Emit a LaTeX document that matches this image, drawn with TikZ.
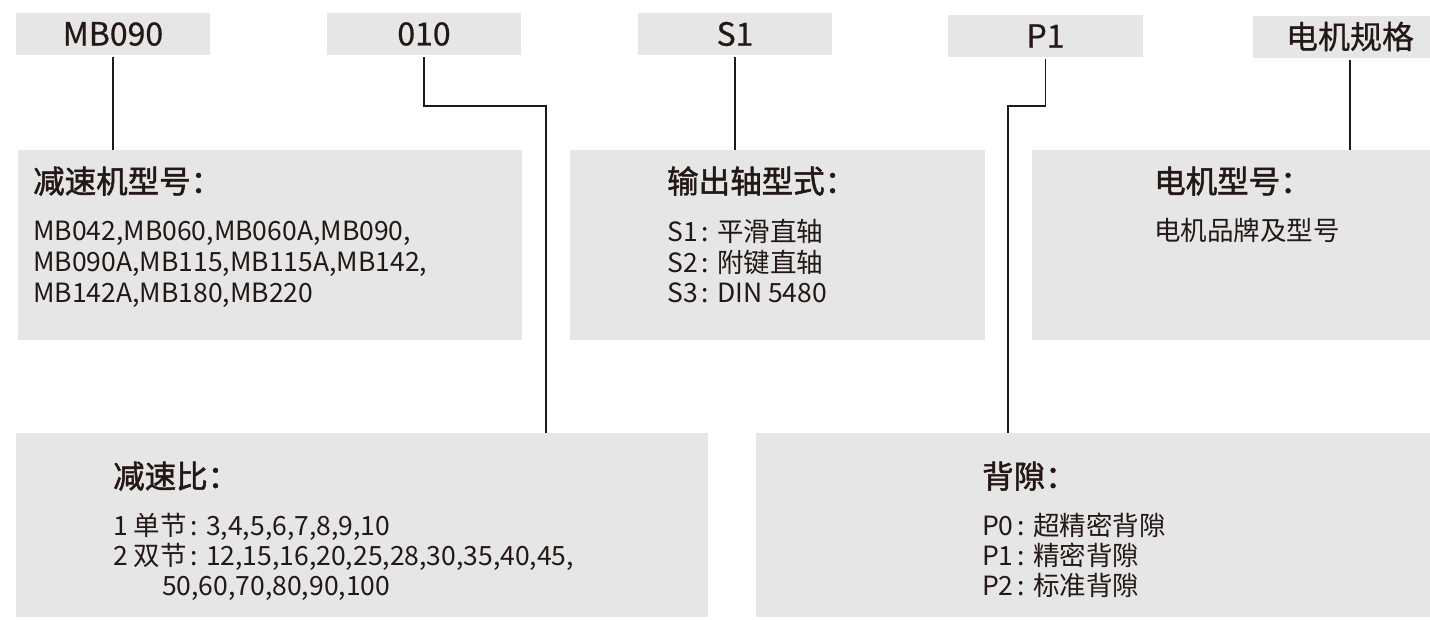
\documentclass[tikz,border=0pt]{standalone}
\usepackage{fontspec}
\setmainfont{Noto Sans CJK SC}
\newfontfamily\ttlfont{Noto Sans CJK SC}[FakeBold=1.6]
\newfontfamily\tagfont{Noto Sans CJK SC}[FakeBold=0.6]
\newcommand\cln{\hspace{4pt}:\hspace{8pt}}
\definecolor{ink}{HTML}{231815}
\definecolor{boxgray}{HTML}{E6E6E6}
\begin{document}
\begin{tikzpicture}[x=1pt,y=-1pt,
  tag/.style={fill=boxgray, inner sep=0pt, minimum height=42, text=ink, font=\tagfont\fontsize{32}{38}\selectfont},
  panel/.style={fill=boxgray, inner sep=0pt},
  ttl/.style={anchor=base west, inner sep=0pt, text=ink, font=\ttlfont\fontsize{31.5}{38}\selectfont},
  txt/.style={anchor=base west, inner sep=0pt, text=ink, font=\fontsize{26.5}{31}\selectfont},
  link/.style={draw=ink, line width=1.4pt, shorten <=2pt}]
\useasboundingbox (0,0) rectangle (1430,619);
\clip (0,0) rectangle (1430,619);
% top tags
\node[tag, minimum width=194] (t1) at (113,34) {MB090};
\node[tag, minimum width=194] (t2) at (424,34) {010};
\node[tag, minimum width=194] (t3) at (735,34) {S1};
\node[tag, minimum width=195] (t4) at (1045.5,36) {P1};
\node[tag, minimum width=194] (t5) at (1350,36.5) {电机规格};
% panels
\node[panel, minimum width=504, minimum height=190] (b1) at (270,245) {};
\node[panel, minimum width=415, minimum height=190] (b2) at (777.5,245) {};
\node[panel, minimum width=415, minimum height=190] (b3) at (1239.5,245) {};
\node[panel, minimum width=692, minimum height=184] (b4) at (362,525) {};
\node[panel, minimum width=691, minimum height=184] (b5) at (1101.5,525) {};
% connectors
\coordinate (k1) at (546,106);
\coordinate (k2) at (1008,106);
\draw[link] (t1.south) -- (t1.south |- b1.north);
\draw[link] (t2.south) |- (k1) -- (k1 |- b4.north);
\draw[link] (t3.south) -- (t3.south |- b2.north);
\draw[link] (t4.south) |- (k2) -- (k2 |- b5.north);
\draw[link] (t5.south) -- (t5.south |- b3.north);
% panel 1
\node[ttl] (b1t) at (33,193) {减速机型号：};
\node[txt] (b1l1) at (33,240) {MB042,MB060,MB060A,MB090,};
\node[txt] (b1l2) at (33,271) {MB090A,MB115,MB115A,MB142,};
\node[txt] (b1l3) at (33,302) {MB142A,MB180,MB220};
% panel 2
\node[ttl] (b2t) at (667,193) {输出轴型式：};
\node[txt] (b2l1) at (667,241) {S1\cln 平滑直轴};
\node[txt] (b2l2) at (667,272) {S2\cln 附键直轴};
\node[txt] (b2l3) at (667,302) {S3\cln DIN 5480};
% panel 3
\node[ttl] (b3t) at (1154,193) {电机型号：};
\node[txt] (b3l1) at (1154,240) {电机品牌及型号};
% panel 4
\node[ttl] (b4t) at (113,488) {减速比：};
\node[txt] (b4l1) at (113,535) {1 单节\cln 3,4,5,6,7,8,9,10};
\node[txt] (b4l2) at (113,565) {2 双节\cln 12,15,16,20,25,28,30,35,40,45,};
\node[txt] (b4l3) at (162,595) {50,60,70,80,90,100};
% panel 5
\node[ttl] (b5t) at (982,488) {背隙：};
\node[txt] (b5l1) at (982,535) {P0\cln 超精密背隙};
\node[txt] (b5l2) at (982,565) {P1\cln 精密背隙};
\node[txt] (b5l3) at (982,595) {P2\cln 标准背隙};
\end{tikzpicture}
\end{document}
